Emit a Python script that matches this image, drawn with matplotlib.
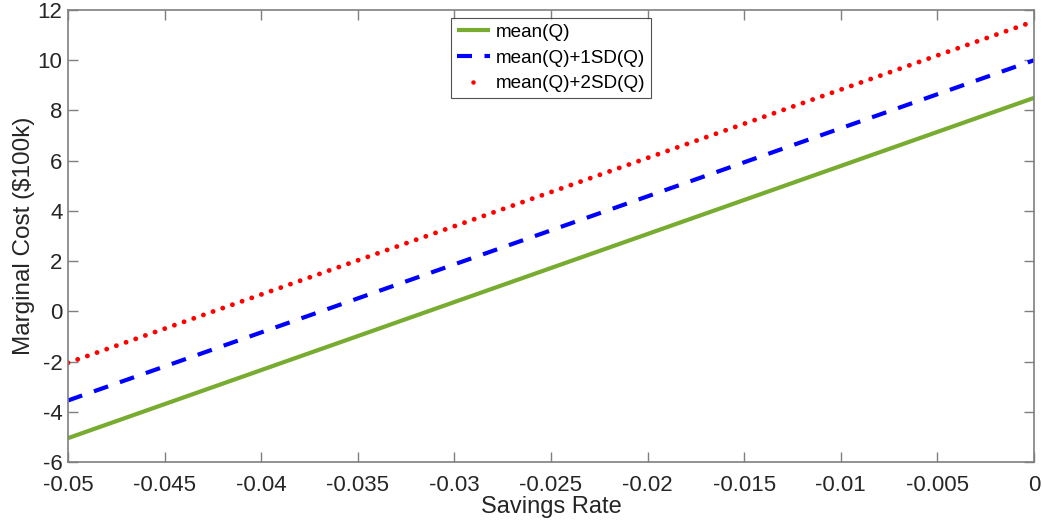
import matplotlib
matplotlib.use("Agg")
import matplotlib.pyplot as plt
from matplotlib.lines import Line2D

# Data
savings_rate = [-0.05, 0.0]
mean_q = [-5.05, 8.5]
mean_q_1sd = [-3.55, 10.0]
mean_q_2sd = [-2.05, 11.55]
labels = ["mean(Q)", "mean(Q)+1SD(Q)", "mean(Q)+2SD(Q)"]
xticks = [-0.05, -0.045, -0.04, -0.035, -0.03, -0.025, -0.02, -0.015, -0.01, -0.005, 0]
xtick_labels = ["-0.05", "-0.045", "-0.04", "-0.035", "-0.03", "-0.025", "-0.02",
                "-0.015", "-0.01", "-0.005", "0"]
yticks = [-6, -4, -2, 0, 2, 4, 6, 8, 10, 12]

plt.rcParams['font.family'] = ['Liberation Sans', 'DejaVu Sans']
axc = '#262626'

fig = plt.figure(figsize=(10.42, 5.27), dpi=100)
ax = fig.add_axes([68/1042, 65/527, (1034-68)/1042, (462-10)/527])

green = '#77AC30'
blue = '#0000FF'
red = '#FF0000'
dash = (0, (3.6, 3.0))
dot = (0, (0.01, 2.1))

ax.plot(savings_rate, mean_q, color=green, lw=3.0, solid_capstyle='butt')
ax.plot(savings_rate, mean_q_1sd, color=blue, lw=3.0, linestyle=dash, dash_capstyle='butt')
ax.plot(savings_rate, mean_q_2sd, color=red, lw=3.5, linestyle=dot, dash_capstyle='round')

ax.set_xlim(-0.05, 0)
ax.set_ylim(-6, 12)
ax.set_xticks(xticks)
ax.set_xticklabels(xtick_labels)
ax.set_yticks(yticks)
ax.set_yticklabels([str(v) for v in yticks])

ax.tick_params(direction='in', length=7, width=1, color='#7f7f7f', labelsize=16,
               top=True, right=True, labelcolor=axc)
ax.tick_params(axis='x', pad=9.5)
ax.tick_params(axis='y', pad=4)
for s in ax.spines.values():
    s.set_color('#7f7f7f')
    s.set_linewidth(1.2)

ax.set_xlabel("Savings Rate", fontsize=17, color=axc, labelpad=0)
ax.set_ylabel("Marginal Cost ($100k)", fontsize=17.5, color=axc, labelpad=2)

handles = [
    Line2D([], [], color=green, lw=3.0, solid_capstyle='butt'),
    Line2D([], [], color=blue, lw=3.0, linestyle=dash, dash_capstyle='butt'),
    Line2D([], [], color=red, linestyle='none', marker='o', markersize=3.2,
           markeredgewidth=0),
]
leg = ax.legend(handles, labels, loc='upper center', bbox_to_anchor=(0.5, 0.983), fontsize=13.6,
                handlelength=1.75, handletextpad=0.3, borderpad=0.32, labelspacing=0.45,
                frameon=True, fancybox=False, borderaxespad=0)
leg.get_frame().set_edgecolor('#262626')
leg.get_frame().set_linewidth(0.8)
for t in leg.get_texts():
    t.set_color('#000000')

fig.savefig("out.png", dpi=100)
